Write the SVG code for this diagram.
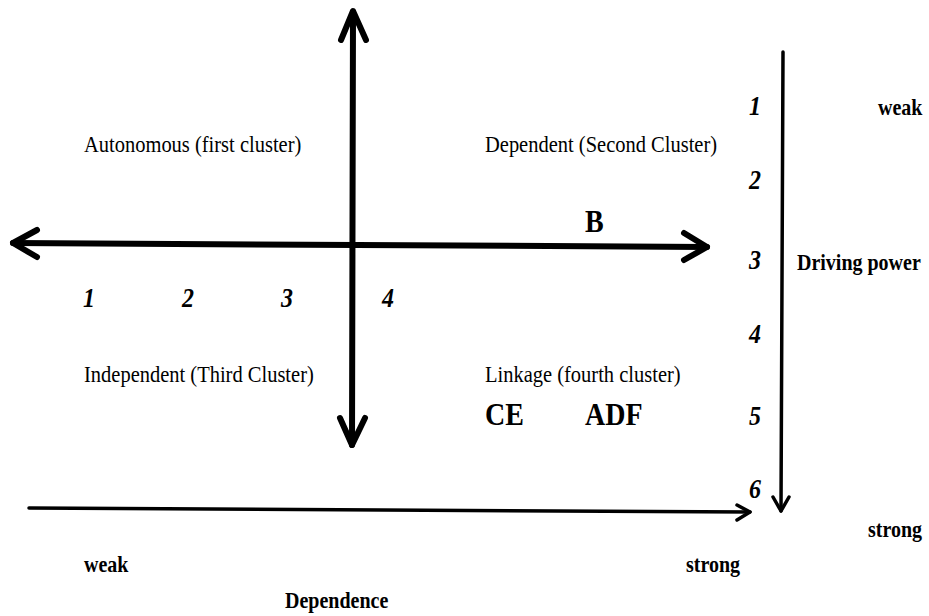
<svg xmlns="http://www.w3.org/2000/svg" width="929" height="616" viewBox="0 0 929 616">
<style>
.reg{font-family:"Liberation Serif","Times New Roman",serif;font-size:20.5px;fill:#000}
.bold{font-family:"Liberation Serif","Times New Roman",serif;font-size:20px;font-weight:bold;fill:#000}
.big{font-family:"Liberation Serif","Times New Roman",serif;font-size:28px;font-weight:bold;fill:#000}
.num{font-family:"Liberation Serif","Times New Roman",serif;font-size:24px;font-weight:bold;font-style:italic;fill:#000}
.thick{stroke:#000;stroke-width:6;fill:none;stroke-linecap:round;stroke-linejoin:round}
.thin{stroke:#000;stroke-width:3.5;fill:none;stroke-linecap:round;stroke-linejoin:round}
</style>
<rect width="929" height="616" fill="#fff"/>
<g id="connectors">
  <path class="thick" d="M353 12 L352 445"/>
  <path class="thick" d="M341 40 L353 11 L366 40"/>
  <path class="thick" d="M340 418 L352 445 L365 418"/>
  <path class="thick" d="M13 243 L707 247"/>
  <path class="thick" d="M37 230 L13 243 L37 257"/>
  <path class="thick" d="M684 233 L707 247 L684 260"/>
  <path class="thin" d="M783 52 L781 511"/>
  <path class="thin" d="M773 497 L781 511 L789 497"/>
  <path class="thin" d="M29 508 L750 512"/>
  <path class="thin" d="M737 505 L750 512 L737 520"/>
</g>
<g id="autonomous"><text class="reg" transform="translate(84,152) scale(1,1.1)">Autonomous (first cluster)</text></g>
<g id="dependent"><text class="reg" transform="translate(485,152) scale(1,1.1)">Dependent (Second Cluster)</text></g>
<g id="independent"><text class="reg" transform="translate(84,382) scale(1,1.1)">Independent (Third Cluster)</text></g>
<g id="linkage"><text class="reg" transform="translate(485,382) scale(1,1.1)">Linkage (fourth cluster)</text></g>
<g id="node-B"><text class="big" transform="translate(585,232) scale(1,1.12)">B</text></g>
<g id="node-CE"><text class="big" transform="translate(485,425) scale(1,1.12)">CE</text></g>
<g id="node-ADF"><text class="big" transform="translate(585,425) scale(1,1.12)">ADF</text></g>
<g id="x-scale">
  <text class="num" transform="translate(83,307) scale(1,1.12)">1</text>
  <text class="num" transform="translate(182,307) scale(1,1.12)">2</text>
  <text class="num" transform="translate(281,307) scale(1,1.12)">3</text>
  <text class="num" transform="translate(382,307) scale(1,1.12)">4</text>
</g>
<g id="y-scale">
  <text class="num" transform="translate(749,115) scale(1,1.12)">1</text>
  <text class="num" transform="translate(749,189) scale(1,1.12)">2</text>
  <text class="num" transform="translate(749,269) scale(1,1.12)">3</text>
  <text class="num" transform="translate(749,343) scale(1,1.12)">4</text>
  <text class="num" transform="translate(749,425) scale(1,1.12)">5</text>
  <text class="num" transform="translate(749,498) scale(1,1.12)">6</text>
</g>
<g id="driving-labels">
  <text class="bold" transform="translate(878,115) scale(1,1.12)">weak</text>
  <text class="bold" transform="translate(797,270) scale(1,1.12)">Driving power</text>
  <text class="bold" transform="translate(868,537) scale(1,1.12)">strong</text>
</g>
<g id="dependence-labels">
  <text class="bold" transform="translate(84,572) scale(1,1.12)">weak</text>
  <text class="bold" transform="translate(686,572) scale(1,1.12)">strong</text>
  <text class="bold" transform="translate(285,608) scale(1,1.12)">Dependence</text>
</g>
</svg>
